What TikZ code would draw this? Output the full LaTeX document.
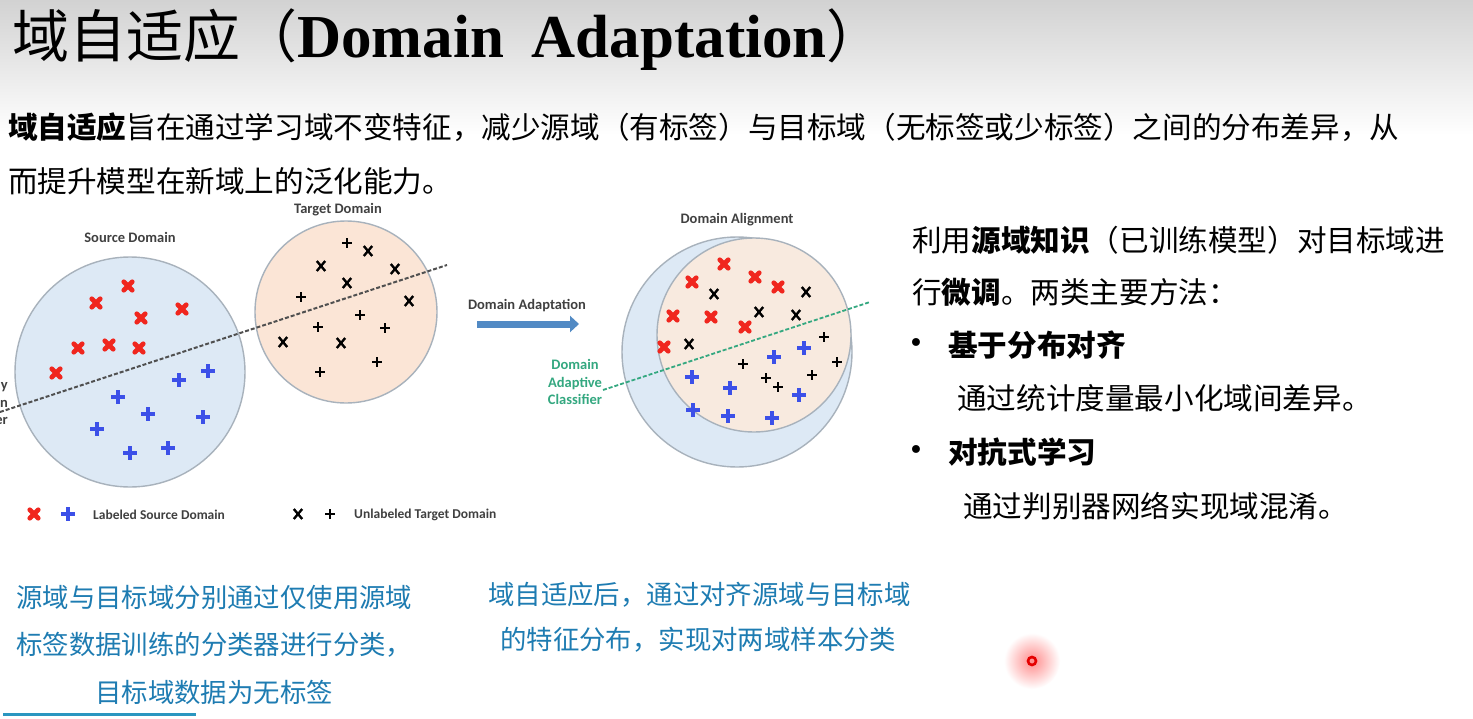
\documentclass[tikz,border=0pt]{standalone}
\usepackage{fontspec}
\setmainfont{Liberation Serif}
\newfontfamily\cjk{Noto Sans CJK SC}
\newfontfamily\lab{Carlito}
\newfontfamily\sym{DejaVu Sans}
\usetikzlibrary{arrows.meta}

\definecolor{srcfill}{RGB}{221,233,245}
\definecolor{tgtfill}{RGB}{251,229,214}
\definecolor{mixfill}{RGB}{248,234,223}
\definecolor{ringgray}{RGB}{168,178,188}
\definecolor{redmark}{RGB}{240,38,30}
\definecolor{bluemark}{RGB}{60,80,232}
\definecolor{labgray}{RGB}{64,64,64}
\definecolor{clsgreen}{RGB}{52,168,128}
\definecolor{arrowblue}{RGB}{82,138,196}
\definecolor{noteblue}{RGB}{30,124,178}
\definecolor{ulblue}{RGB}{42,150,192}
\definecolor{dashgray}{RGB}{80,80,80}
\definecolor{topgray}{RGB}{210,210,210}

\tikzset{
  body/.style={anchor=west, inner sep=0pt, font=\cjk\fontsize{29.6}{30}\selectfont},
  note/.style={anchor=west, inner sep=0pt, text=noteblue, font=\cjk\fontsize{26.4}{27}\selectfont},
  bul/.style={inner sep=0pt, font=\sym\fontsize{27}{27}\selectfont},
  figlab/.style={inner sep=0pt, text=labgray, font=\lab\bfseries\fontsize{14.5}{17.5}\selectfont},
  ringline/.style={draw=ringgray, line width=1.4pt},
  rx/.pic={\draw[redmark, line width=4.8pt, line cap=round] (-4.2,-4.2)--(4.2,4.2) (-4.2,4.2)--(4.2,-4.2);},
  bp/.pic={\draw[bluemark, line width=4.6pt] (-7,0)--(7,0) (0,-7)--(0,7);},
  kx/.pic={\draw[black, line width=2.4pt] (-4.2,-5)--(4.2,5) (-4.2,5)--(4.2,-5);},
  kp/.pic={\draw[black, line width=2pt] (-5,0)--(5,0) (0,-5)--(0,5);},
}

\begin{document}
\begin{tikzpicture}[x=1pt,y=-1pt]
\useasboundingbox (0,0) rectangle (1473,718);
\fill[white] (0,0) rectangle (1473,718);
% soft gray header band
\shade[top color=topgray, bottom color=white] (0,0) rectangle (1473,135);

% title
\node[anchor=base west, inner sep=0pt] (title) at (12,57)
  {\cjk\fontsize{57}{60}\selectfont 域自适应（\rmfamily\bfseries\fontsize{61}{61}\selectfont Domain\hspace{28pt}Adaptation\cjk\mdseries\fontsize{57}{60}\selectfont ）};

% introduction
\node[body] (intro1) at (8,127) {\textbf{域自适应}旨在通过学习域不变特征，减少源域（有标签）与目标域（无标签或少标签）之间的分布差异，从};
\node[body] (intro2) at (8,181) {而提升模型在新域上的泛化能力。};

% ---------- source / target domains ----------
\node[figlab, anchor=east, align=right] (srcclf) at (8,402) {Source-only\\Domain\\Classifier};
\filldraw[ringline, fill=srcfill] (130,372) circle[radius=115pt];
\filldraw[ringline, fill=tgtfill] (346,312) circle[radius=91pt];
\node[figlab] (srclab) at (130,237) {Source Domain};
\node[figlab] (tgtlab) at (338,210) {Target Domain};

\coordinate (bndA) at (0,412);
\coordinate (bndB) at (447,265);
\draw[dashgray, line width=2pt, dash pattern=on 4pt off 2pt] (bndA) -- (bndB);

\foreach \p in {(128,286),(96,303),(141,318),(182,309),(78,348),(109,345),(139,348),(56,373)}
  \pic at \p {rx};
\foreach \p in {(208,371),(179,380),(118,397),(148,414),(203,417),(97,429),(130,453),(168,448)}
  \pic at \p {bp};
\foreach \p in {(368,251),(321,266),(395,269),(347,283),(409,301),(283,342),(341,343)}
  \pic at \p {kx};
\foreach \p in {(347,243),(301,297),(360,315),(318,327),(385,328),(377,362),(320,372)}
  \pic at \p {kp};

% ---------- adaptation arrow ----------
\node[figlab] (adlab) at (527,306) {Domain Adaptation};
\coordinate (arrS) at (477,324);
\coordinate (arrE) at (579,324);
\draw[arrowblue, line width=7pt, -{Triangle[length=9pt,width=16pt]}] (arrS) -- (arrE);

% ---------- aligned domains ----------
\filldraw[ringline, fill=srcfill] (737,352) circle[radius=115pt];
\filldraw[ringline, fill=mixfill] (754,335) circle[radius=97pt];
\node[figlab] (alignlab) at (737,220) {Domain Alignment};

\foreach \p in {(724,264),(692,282),(755,277),(778,287),(673,316),(711,317),(745,327),(664,347)}
  \pic at \p {rx};
\foreach \p in {(714,294),(806,292),(759,312),(796,315),(689,344)}
  \pic at \p {kx};
\foreach \p in {(824,337),(837,362),(743,364),(766,378),(778,387),(812,375)}
  \pic at \p {kp};
\foreach \p in {(804,348),(774,357),(692,377),(730,388),(799,395),(693,410),(728,416),(772,418)}
  \pic at \p {bp};

\coordinate (clfA) at (603,390);
\coordinate (clfB) at (870,302);
\draw[clsgreen, line width=1.8pt, dash pattern=on 4pt off 2pt] (clfA) -- (clfB);
\node[figlab, text=clsgreen, align=center] (clflab) at (575,382) {Domain\\Adaptive\\Classifier};

% ---------- legend ----------
\pic at (34,514) {rx};
\pic at (68,514) {bp};
\node[figlab, anchor=west, font=\lab\bfseries\fontsize{13.5}{14}\selectfont] (leg1) at (93,515) {Labeled Source Domain};
\pic at (298,514) {kx};
\pic at (330,514) {kp};
\node[figlab, anchor=west, font=\lab\bfseries\fontsize{13.5}{14}\selectfont] (leg2) at (354,515) {Unlabeled Target Domain};

% ---------- right-hand explanation ----------
\node[body] (r1) at (912,240) {利用\textbf{源域知识}（已训练模型）对目标域进};
\node[body] (r2) at (912,292) {行\textbf{微调}。两类主要方法：};
\node[bul] (b1) at (916,346) {•};
\node[body] (h1) at (948,345) {\textbf{基于分布对齐}};
\node[body] (d1) at (957,398) {通过统计度量最小化域间差异。};
\node[bul] (b2) at (916,453) {•};
\node[body] (h2) at (948,452) {\textbf{对抗式学习}};
\node[body] (d2) at (963,506) {通过判别器网络实现域混淆。};

% ---------- captions ----------
\node[note] (c1) at (16,597) {源域与目标域分别通过仅使用源域};
\node[note] (c2) at (16,645) {标签数据训练的分类器进行分类，};
\node[note] (c3) at (95,692) {目标域数据为无标签};
\coordinate (ulA) at (3,714);
\coordinate (ulB) at (196,714);
\draw[ulblue, line width=3pt] (ulA) -- (ulB);

\node[note] (c4) at (488,595) {域自适应后，通过对齐源域与目标域};
\node[note] (c5) at (500,640) {的特征分布，实现对两域样本分类};

% pointer dot
\shade[inner color=red!45, outer color=white] (1032,661) circle[radius=28pt];
\draw[red!90!black, line width=2.6pt] (1032,661) circle[radius=4pt];
\end{tikzpicture}
\end{document}
